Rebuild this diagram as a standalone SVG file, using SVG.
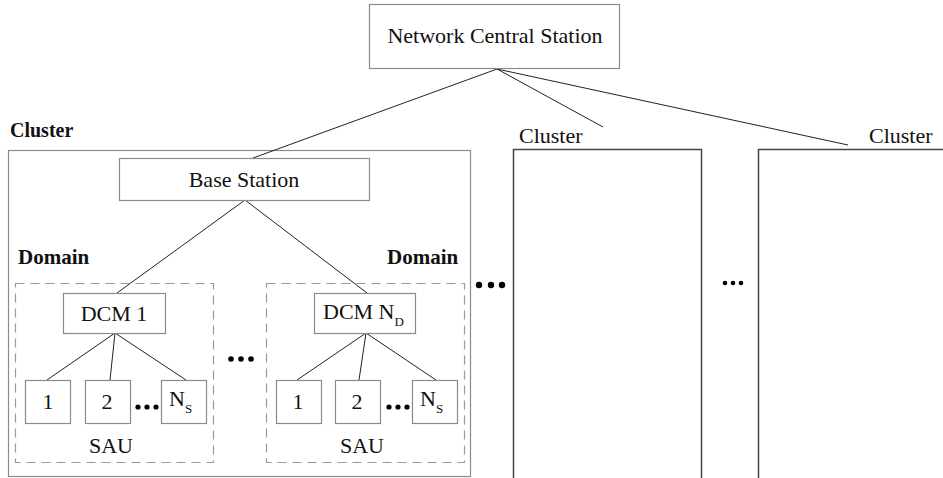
<svg xmlns="http://www.w3.org/2000/svg" width="943" height="478" viewBox="0 0 943 478" font-family="'Liberation Serif','Times New Roman',serif">
<style>
text{font-family:"Liberation Serif","Times New Roman",serif;fill:#111}
.t{font-size:22px}
.b{font-size:20px;font-weight:bold}
.d{font-size:21px;font-weight:bold}
.sub{font-size:13px}
.box{fill:#fff;stroke:#8a8a8a;stroke-width:1.2}
.dash{fill:none;stroke:#9a9a9a;stroke-width:1.2;stroke-dasharray:9 6}
.ln{stroke:#222;stroke-width:1;fill:none}
.dot{fill:#000}
</style>
<rect width="943" height="478" fill="#fff"/>
<g id="clusters">
<g id="cluster1">
<rect class="box" x="8.5" y="150.5" width="462" height="326"/>
<text class="b" x="10" y="137">Cluster</text>
</g>
<g id="cluster2">
<path d="M513.5 478V149.5H701.5V478" fill="none" stroke="#444" stroke-width="1.5"/>
<text class="t" x="519" y="143">Cluster</text>
</g>
<g id="cluster3">
<path d="M758.5 478V149.5H943" fill="none" stroke="#444" stroke-width="1.5"/>
<text class="t" x="869" y="143">Cluster</text>
</g>
</g>
<g id="connectors">
<line class="ln" x1="497" y1="69" x2="253" y2="158"/>
<line class="ln" x1="497" y1="69" x2="603" y2="127"/>
<line class="ln" x1="497" y1="69" x2="848" y2="145"/>
<line class="ln" x1="245" y1="200" x2="117" y2="293"/>
<line class="ln" x1="245" y1="200" x2="367" y2="293"/>
<line class="ln" x1="115" y1="333" x2="47" y2="380"/>
<line class="ln" x1="115" y1="333" x2="110" y2="380"/>
<line class="ln" x1="115" y1="333" x2="186" y2="380"/>
<line class="ln" x1="366" y1="333" x2="297" y2="380"/>
<line class="ln" x1="366" y1="333" x2="359" y2="380"/>
<line class="ln" x1="366" y1="333" x2="436" y2="380"/>
</g>
<g id="ncs">
<rect class="box" x="369.5" y="4.5" width="250" height="64"/>
<text class="t" x="495" y="43" text-anchor="middle">Network Central Station</text>
</g>
<g id="base-station">
<rect class="box" x="119.5" y="158.5" width="250" height="42"/>
<text class="t" x="244" y="187" text-anchor="middle">Base Station</text>
</g>
<g id="domain1">
<rect class="dash" x="15.5" y="283.5" width="198" height="179"/>
<text class="d" x="18" y="264">Domain</text>
<text class="t" x="111" y="453" text-anchor="middle">SAU</text>
</g>
<g id="domain2">
<rect class="dash" x="266.5" y="283.5" width="198" height="179"/>
<text class="d" x="387" y="264">Domain</text>
<text class="t" x="362" y="453" text-anchor="middle">SAU</text>
</g>
<g id="dcm1">
<rect class="box" x="63.5" y="293.5" width="102" height="40"/>
<text class="t" x="114" y="321" text-anchor="middle">DCM 1</text>
</g>
<g id="dcmN">
<rect class="box" x="314.5" y="293.5" width="101" height="40"/>
<text class="t" x="323" y="319">DCM N<tspan class="sub" dy="7">D</tspan></text>
</g>
<g id="sau1-1"><rect class="box" x="25.5" y="380.5" width="45" height="43"/><text class="t" x="48" y="409" text-anchor="middle">1</text></g>
<g id="sau1-2"><rect class="box" x="85.5" y="380.5" width="45" height="43"/><text class="t" x="107" y="409" text-anchor="middle">2</text></g>
<g id="sau1-n"><rect class="box" x="161.5" y="380.5" width="45" height="43"/><text class="t" x="169" y="406">N<tspan class="sub" dy="7">S</tspan></text></g>
<g id="sau2-1"><rect class="box" x="276.5" y="380.5" width="45" height="43"/><text class="t" x="298" y="409" text-anchor="middle">1</text></g>
<g id="sau2-2"><rect class="box" x="335.5" y="380.5" width="45" height="43"/><text class="t" x="357" y="409" text-anchor="middle">2</text></g>
<g id="sau2-n"><rect class="box" x="412.5" y="380.5" width="45" height="43"/><text class="t" x="420" y="406">N<tspan class="sub" dy="7">S</tspan></text></g>
<g id="ellipses">
<circle class="dot" cx="138" cy="407" r="2.6"/><circle class="dot" cx="147" cy="407" r="2.6"/><circle class="dot" cx="156" cy="407" r="2.6"/>
<circle class="dot" cx="389" cy="407" r="2.6"/><circle class="dot" cx="398" cy="407" r="2.6"/><circle class="dot" cx="407" cy="407" r="2.6"/>
<circle class="dot" cx="231" cy="359" r="2.8"/><circle class="dot" cx="241" cy="359" r="2.8"/><circle class="dot" cx="251" cy="359" r="2.8"/>
<circle class="dot" cx="479" cy="285" r="3.2"/><circle class="dot" cx="491" cy="285" r="3.2"/><circle class="dot" cx="502" cy="285" r="3.2"/>
<circle class="dot" cx="725" cy="283" r="2.3"/><circle class="dot" cx="733" cy="283" r="2.3"/><circle class="dot" cx="741" cy="283" r="2.3"/>
</g>
</svg>
